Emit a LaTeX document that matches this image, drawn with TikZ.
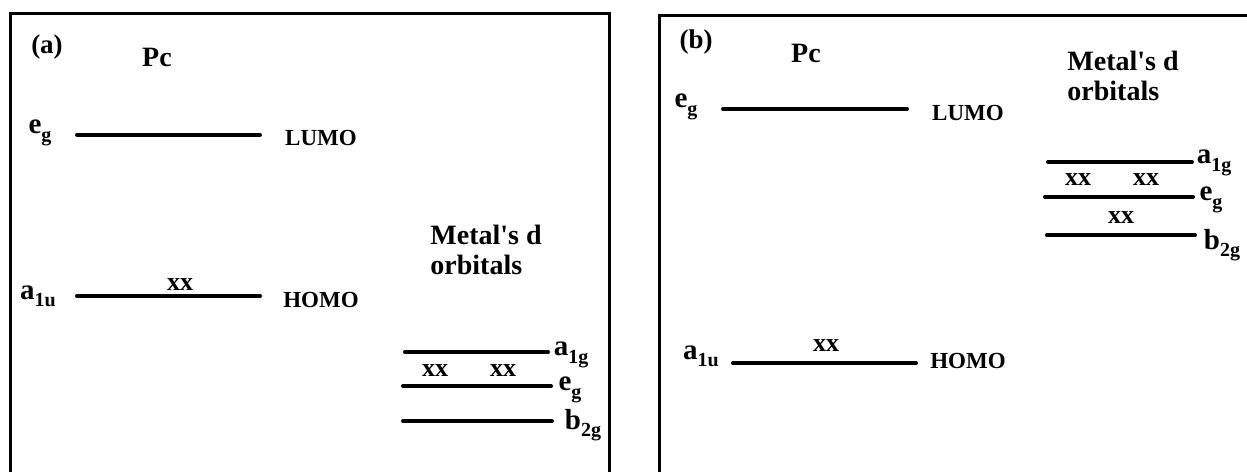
\documentclass[tikz,border=0pt]{standalone}
\usepackage{fontspec}
\setmainfont{Liberation Serif}[Ligatures=TeXOff]
\usetikzlibrary{positioning}

% lowered index as in the orbital labels
\newcommand\orbidx[1]{\raisebox{-0.55ex}{\fontsize{10}{10}\selectfont #1}}

\tikzset{
  frame/.style={line width=1.5pt},
  level/.style={line width=2pt, line cap=round},
  panel/.style={inner sep=0pt, font=\fontsize{13.5}{15}\selectfont\bfseries},
  title/.style={inner sep=0pt, font=\fontsize{14}{15}\selectfont\bfseries, align=left},
  orb/.style={inner sep=0pt, font=\fontsize{14.5}{16}\selectfont\bfseries},
  tag/.style={inner sep=0pt, font=\fontsize{11.5}{13}\selectfont\bfseries},
  pair/.style={inner sep=0pt, font=\fontsize{13}{15}\selectfont\bfseries}
}

\begin{document}
\begin{tikzpicture}[x=0.5pt, y=-0.5pt]
  \useasboundingbox (0,0) rectangle (1247,472);

  % frames (open at the bottom)
  \draw[frame] (10,472) |- (609,13) -- (609,472);
  \draw[frame] (659,472) |- (1247,15);

  % ---- panel (a)
  \node[panel] (tagA) at (47,47) {(a)};
  \node[title] (pcA) at (157,57) {Pc};

  \coordinate (lumoA-l) at (77,135);
  \coordinate (lumoA-r) at (260,135);
  \coordinate (homoA-l) at (77,296);
  \coordinate (homoA-r) at (260,296);
  \draw[level] (lumoA-l) -- (lumoA-r);
  \draw[level] (homoA-l) -- (homoA-r);

  \node[orb] (egA) at (40,133) {e\orbidx{g}};
  \node[orb] (auA) at (38,296) {a\orbidx{1u}};
  \node[tag] (lumoA) at (321,138) {LUMO};
  \node[tag] (homoA) at (321,300) {HOMO};
  \node[pair] (xxA) at (180,285) {xx};

  \node[title, anchor=west] (metalA) at (430,250) {Metal's d\\orbitals};

  \coordinate (a1gA-l) at (405,352);
  \coordinate (a1gA-r) at (548,352);
  \coordinate (dEgA-l) at (403,386);
  \coordinate (dEgA-r) at (551,386);
  \coordinate (b2gA-l) at (403,421);
  \coordinate (b2gA-r) at (552,421);
  \draw[level] (a1gA-l) -- (a1gA-r);
  \draw[level] (dEgA-l) -- (dEgA-r);
  \draw[level] (b2gA-l) -- (b2gA-r);

  \node[pair] (xxA1) at (435,371) {xx};
  \node[pair] (xxA2) at (503,371) {xx};
  \node[orb] (a1gA) at (571,355) {a\orbidx{1g}};
  \node[orb] (dEgA) at (570,390) {e\orbidx{g}};
  \node[orb] (b2gA) at (583,425) {b\orbidx{2g}};

  % ---- panel (b)
  \node[panel] (tagB) at (696,42) {(b)};
  \node[title] (pcB) at (806,53) {Pc};

  \coordinate (lumoB-l) at (723,109);
  \coordinate (lumoB-r) at (907,109);
  \coordinate (homoB-l) at (733,363);
  \coordinate (homoB-r) at (916,363);
  \draw[level] (lumoB-l) -- (lumoB-r);
  \draw[level] (homoB-l) -- (homoB-r);

  \node[orb] (egB) at (686,107) {e\orbidx{g}};
  \node[orb] (auB) at (701,356) {a\orbidx{1u}};
  \node[tag] (lumoB) at (968,113) {LUMO};
  \node[tag] (homoB) at (968,361) {HOMO};
  \node[pair] (xxB) at (826,346) {xx};

  \node[title, anchor=west] (metalB) at (1067,76) {Metal's d\\orbitals};

  \coordinate (a1gB-l) at (1048,162);
  \coordinate (a1gB-r) at (1192,162);
  \coordinate (dEgB-l) at (1045,197);
  \coordinate (dEgB-r) at (1193,197);
  \coordinate (b2gB-l) at (1047,235);
  \coordinate (b2gB-r) at (1195,235);
  \draw[level] (a1gB-l) -- (a1gB-r);
  \draw[level] (dEgB-l) -- (dEgB-r);
  \draw[level] (b2gB-l) -- (b2gB-r);

  \node[pair] (xxB1) at (1078,180) {xx};
  \node[pair] (xxB2) at (1146,180) {xx};
  \node[pair] (xxB3) at (1121,218) {xx};
  \node[orb] (a1gB) at (1214,163) {a\orbidx{1g}};
  \node[orb] (dEgB) at (1211,200) {e\orbidx{g}};
  \node[orb] (b2gB) at (1222,245) {b\orbidx{2g}};
\end{tikzpicture}
\end{document}
